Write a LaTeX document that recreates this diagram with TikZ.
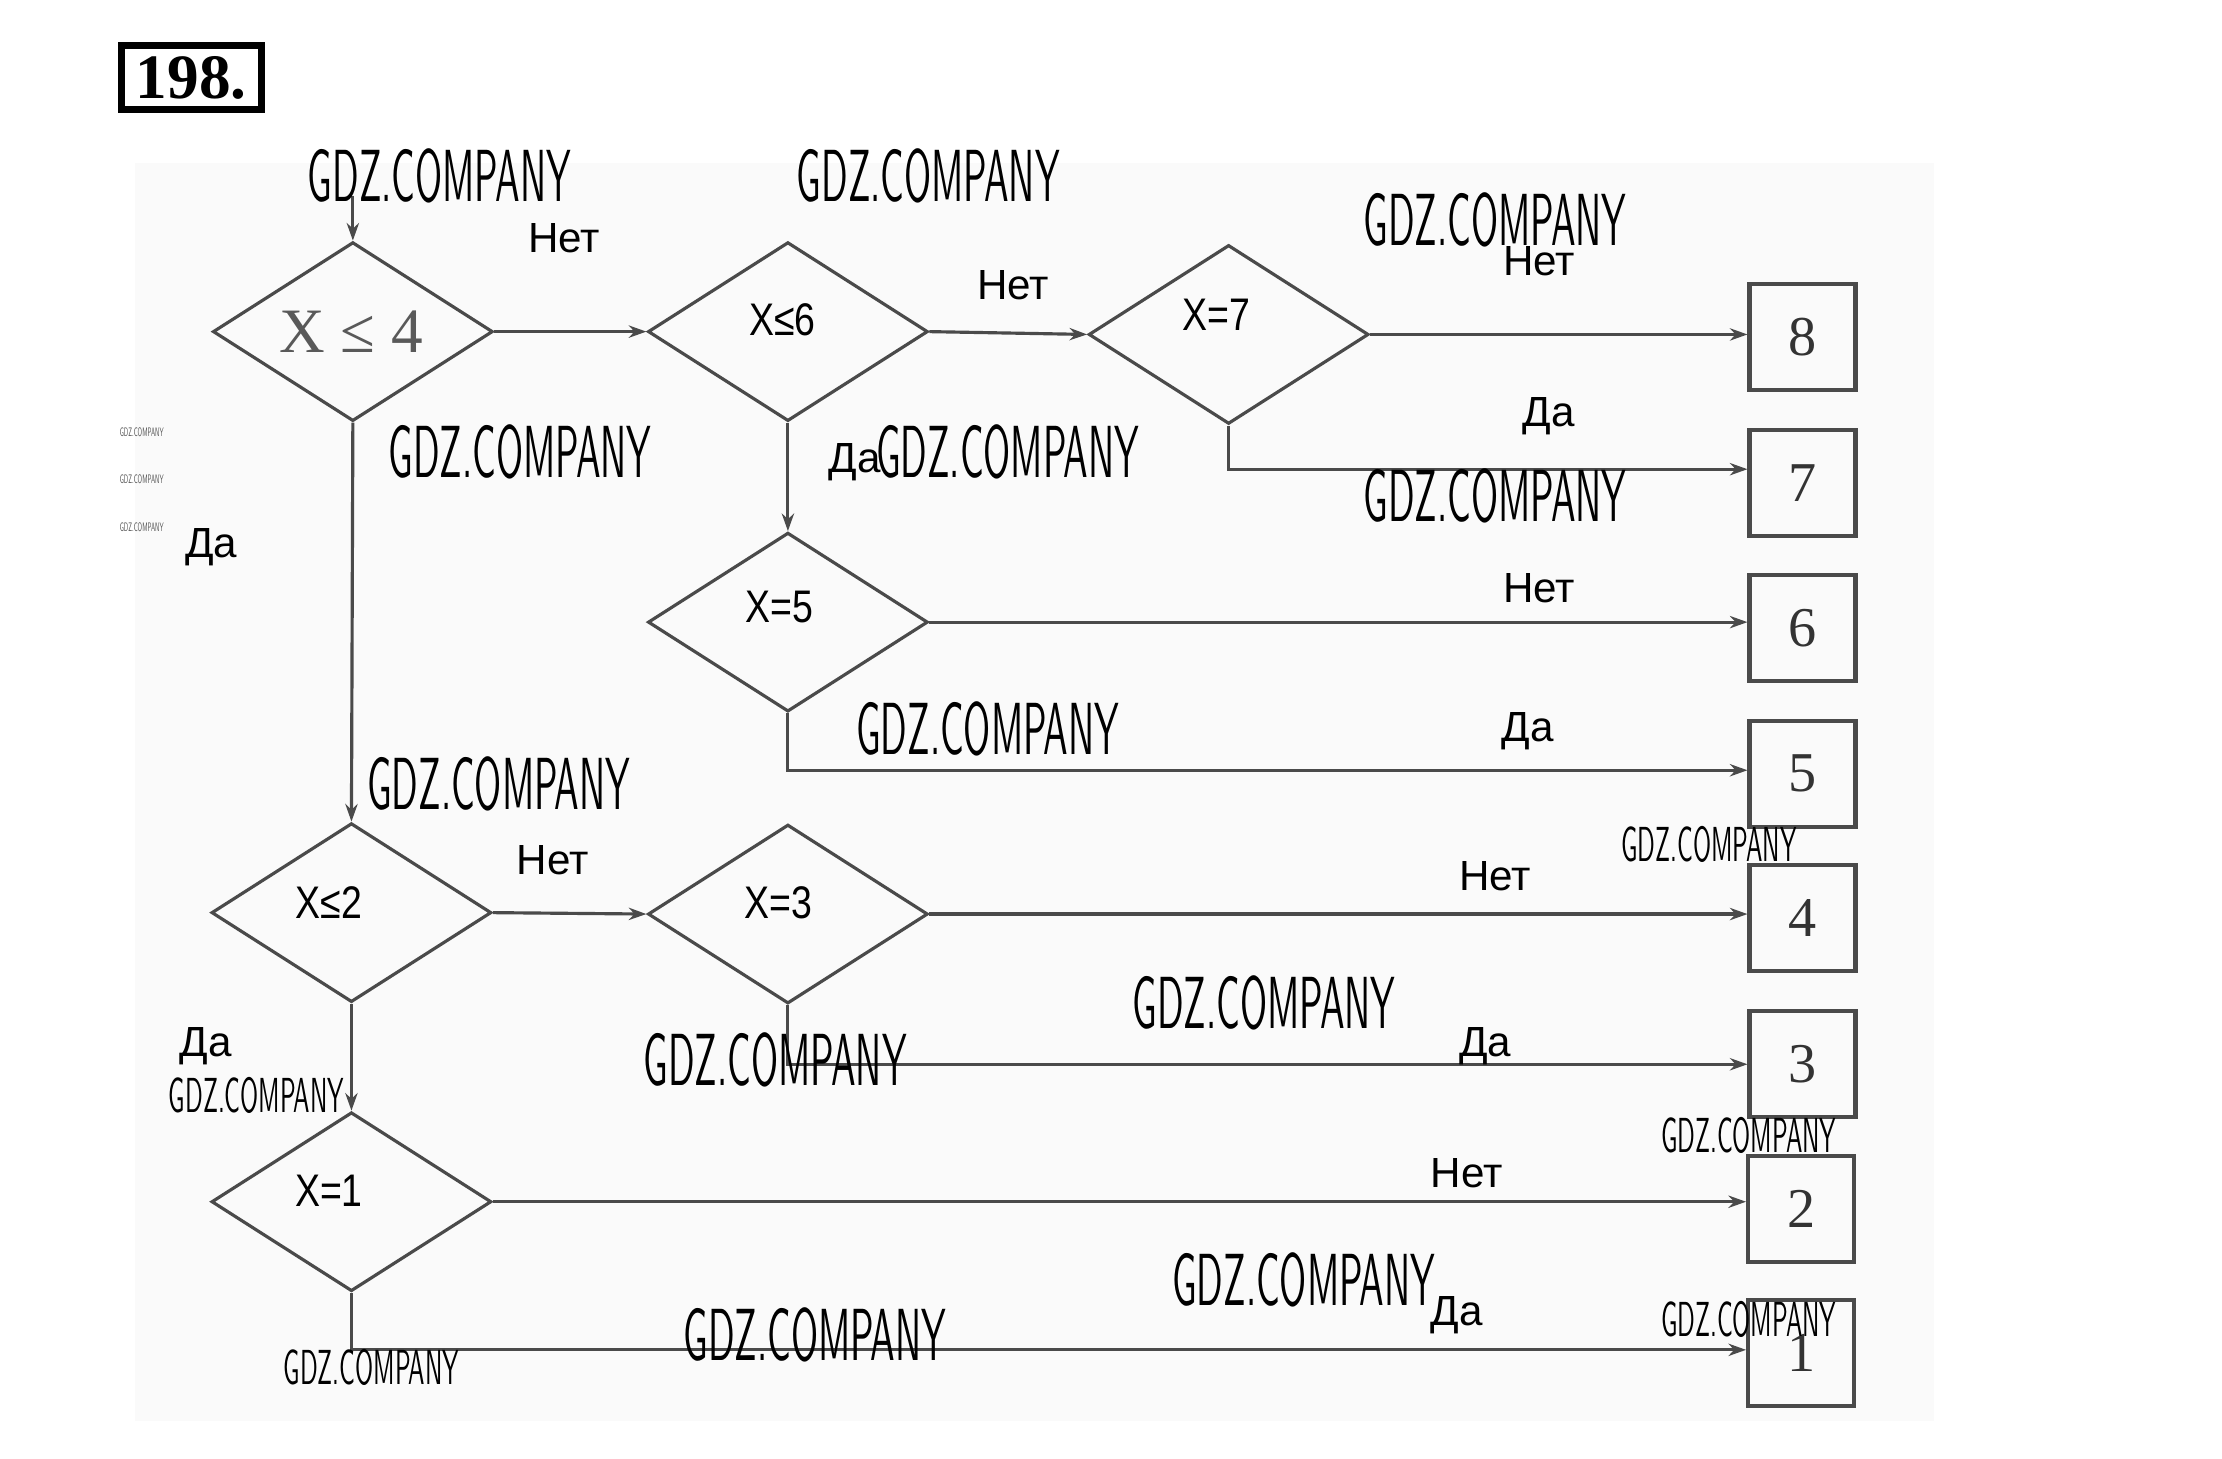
\documentclass[tikz,border=0pt]{standalone}
\usepackage{fontspec}
\setmainfont{Liberation Serif}
\newfontfamily\lblfont{Liberation Sans}
\newfontfamily\dfont[FakeStretch=0.82]{Liberation Sans}
\newfontfamily\wmfont[FakeStretch=0.5]{lmsans10-regular.otf}
\usetikzlibrary{shapes.geometric,arrows.meta,calc}
\definecolor{linegray}{HTML}{4A4A4A}
\definecolor{bggray}{HTML}{FAFAFA}
\tikzset{
  dia/.style={diamond, draw=linegray, line width=0.9pt, minimum width=2.80cm, minimum height=1.79cm, inner sep=0pt},
  dtext/.style={font=\dfont\fontsize{13}{13}\selectfont, text=black, inner sep=0pt},
  outbox/.style={rectangle, draw=linegray, line width=1.2pt, minimum width=1.06cm, minimum height=1.06cm, inner sep=0pt, font=\fontsize{16}{16}\selectfont, text=black!80},
  conn/.style={draw=linegray, line width=0.9pt, -{Stealth[length=5pt,width=3.5pt]}},
  lbl/.style={font=\lblfont\fontsize{12}{12}\selectfont, text=black, inner sep=0pt},
  wm/.style={font=\wmfont\fontsize{21}{21}\selectfont, text=black, inner sep=0pt},
  wms/.style={font=\wmfont\fontsize{14}{14}\selectfont, text=black, inner sep=0pt},
  wmt/.style={font=\wmfont\fontsize{3.5}{3.5}\selectfont, text=black!70, inner sep=0pt},
  numbox/.style={draw=black, line width=2pt, inner sep=3pt, font=\bfseries\fontsize{18}{18}\selectfont}
}
\begin{document}
\begin{tikzpicture}[x=0.01417cm, y=-0.01417cm]
\useasboundingbox (0,0) rectangle (1568,1029);
\fill[bggray] (95,115) rectangle (1365,1003);

% title
\node[numbox, minimum width=1.40cm, minimum height=0.62cm] (num) at (135,55) {198.};

% decisions
\node[dia, label={[font=\fontsize{18}{18}\selectfont, text=black!65, inner sep=0pt, xshift=-0.5pt]center:X ≤ 4}] (d1) at (249,234) {};
\node[dia, label={[dtext, xshift=-1.6pt, yshift=3.4pt]center:X≤6}] (d2) at (556,234) {};
\node[dia, label={[dtext, xshift=-3.6pt, yshift=5.6pt]center:X=7}] (d3) at (867,236) {};
\node[dia, label={[dtext, xshift=-2.4pt, yshift=4.4pt]center:X=5}] (d4) at (556,439) {};
\node[dia, label={[dtext, xshift=-6.4pt, yshift=2.8pt]center:X≤2}] (d5) at (248,644) {};
\node[dia, label={[dtext, xshift=-2.8pt, yshift=3.2pt]center:X=3}] (d6) at (556,645) {};
\node[dia, label={[dtext, xshift=-6.4pt, yshift=3.2pt]center:X=1}] (d7) at (248,848) {};

% outcome boxes
\node[outbox] (b8) at (1272,238) {8};
\node[outbox] (b7) at (1272,341) {7};
\node[outbox] (b6) at (1272,443) {6};
\node[outbox] (b5) at (1272,546) {5};
\node[outbox] (b4) at (1272,648) {4};
\node[outbox] (b3) at (1272,751) {3};
\node[outbox] (b2) at (1271,853) {2};
\node[outbox] (b1) at (1271,955) {1};

\coordinate (start) at (249,138);

% connectors
\draw[conn] (start) -- (d1.north);
\draw[conn] (d1.east) -- (d2.west);
\draw[conn] (d2.east) -- (d3.west);
\draw[conn] (d3.east) -- (d3.east -| b8.west);
\draw[conn] (d3.south) |- ([yshift=4pt]b7.west);
\draw[conn] (d2.south) -- (d4.north);
\draw[conn] (d4.east) -- (d4.east -| b6.west);
\draw[conn] (d4.south) |- ([yshift=1pt]b5.west);
\draw[conn] (d1.south) -- (d5.north);
\draw[conn] (d5.east) -- (d6.west);
\draw[conn] (d6.east) -- (d6.east -| b4.west);
\draw[conn] (d6.south) |- (b3.west);
\draw[conn] (d5.south) -- (d7.north);
\draw[conn] (d7.east) -- (d7.east -| b2.west);
\draw[conn] (d7.south) |- ([yshift=1pt]b1.west);

% branch labels
\node[lbl] (l1) at (398,168) {Нет};
\node[lbl] (l2) at (715,201) {Нет};
\node[lbl] (l3) at (1086,184) {Нет};
\node[lbl] (l4) at (1093,294) {Да};
\node[lbl] (l5) at (603,326) {Да};
\node[lbl] (l6) at (1086,415) {Нет};
\node[lbl] (l7) at (1078,516) {Да};
\node[lbl] (l8) at (149,386) {Да};
\node[lbl] (l9) at (390,607) {Нет};
\node[lbl] (l10) at (1055,618) {Нет};
\node[lbl] (l11) at (1048,738) {Да};
\node[lbl] (l12) at (145,738) {Да};
\node[lbl] (l13) at (1035,828) {Нет};
\node[lbl] (l14) at (1028,928) {Да};

% watermarks
\node[wm] (w1) at (310,124) {GDZ.COMPANY};
\node[wm] (w2) at (655,124) {GDZ.COMPANY};
\node[wm] (w3) at (1055,155) {GDZ.COMPANY};
\node[wm] (w4) at (367,319) {GDZ.COMPANY};
\node[wm] (w5) at (711,319) {GDZ.COMPANY};
\node[wm] (w6) at (1055,350) {GDZ.COMPANY};
\node[wm] (w7) at (697,514) {GDZ.COMPANY};
\node[wm] (w8) at (352,553) {GDZ.COMPANY};
\node[wm] (w10) at (892,708) {GDZ.COMPANY};
\node[wm] (w11) at (547,748) {GDZ.COMPANY};
\node[wm] (w14) at (920,903) {GDZ.COMPANY};
\node[wm] (w15) at (575,942) {GDZ.COMPANY};
\node[wms] (w9) at (1206,596) {GDZ.COMPANY};
\node[wms] (w12) at (181,773) {GDZ.COMPANY};
\node[wms] (w13) at (1234,801) {GDZ.COMPANY};
\node[wms] (w16) at (262,965) {GDZ.COMPANY};
\node[wms] (w17) at (1234,931) {GDZ.COMPANY};
\node[wmt] (w18) at (100,305) {GDZ.COMPANY};
\node[wmt] (w19) at (100,338) {GDZ.COMPANY};
\node[wmt] (w20) at (100,372) {GDZ.COMPANY};
\end{tikzpicture}
\end{document}
